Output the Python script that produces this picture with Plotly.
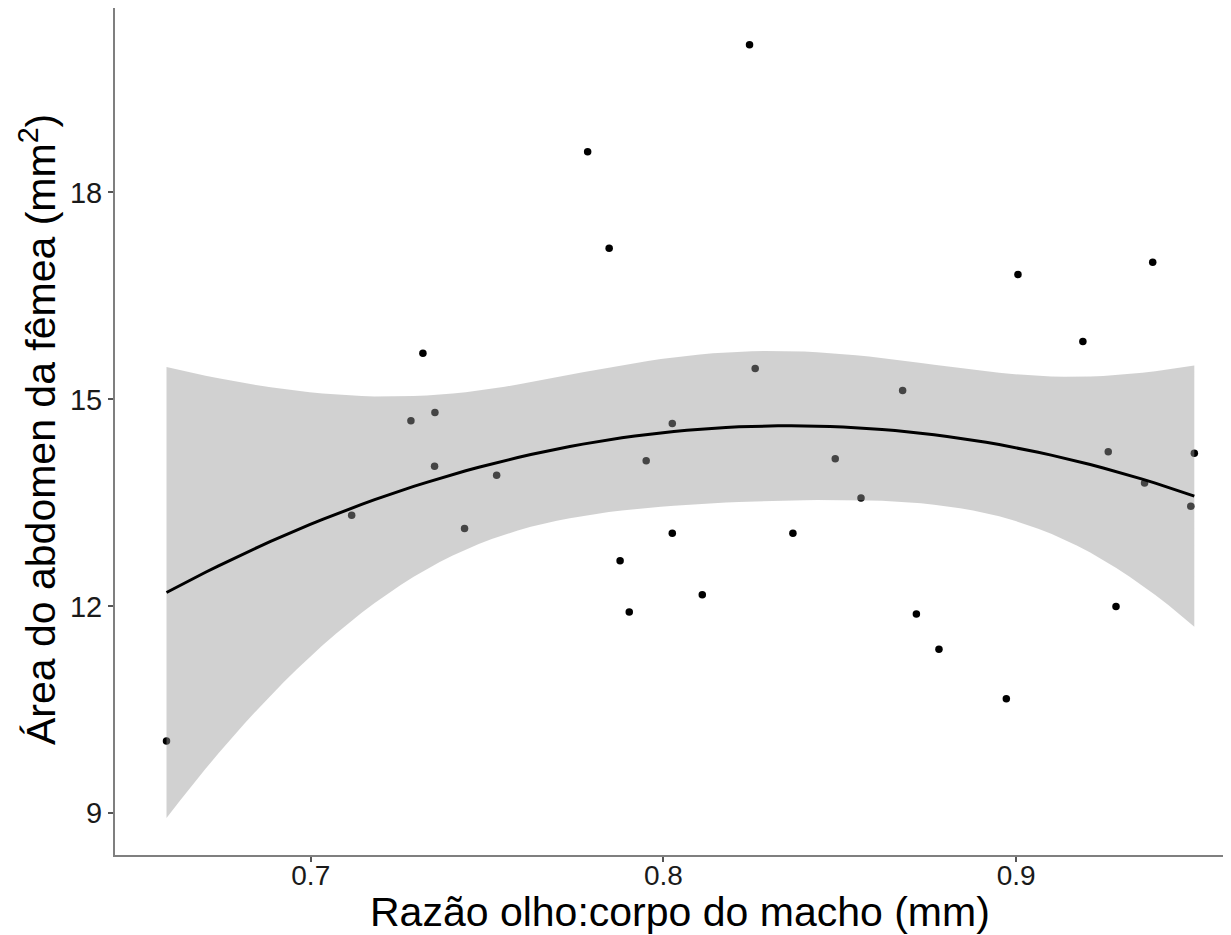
import numpy as np
import plotly.graph_objects as go

# Male eye:body ratio (x) and female abdomen area (y)
razao = [0.6591, 0.7116, 0.7284, 0.7318, 0.7352, 0.7351, 0.7436, 0.7527,
         0.7785, 0.7846, 0.7877, 0.7903, 0.7951, 0.8025, 0.8025, 0.8110,
         0.8244, 0.8260, 0.8367, 0.8487, 0.8560, 0.8678, 0.8717, 0.8781,
         0.8972, 0.9005, 0.9189, 0.9261, 0.9283, 0.9364, 0.9387, 0.9495,
         0.9505]
area = [10.05, 13.32, 14.69, 15.67, 14.81, 14.03, 13.13, 13.90,
        18.59, 17.19, 12.66, 11.92, 14.11, 14.65, 13.06, 12.17,
        20.14, 15.45, 13.06, 14.14, 13.57, 15.13, 11.89, 11.38,
        10.66, 16.81, 15.84, 14.24, 12.00, 13.79, 16.99, 13.45,
        14.22]

x_ticks = [0.7, 0.8, 0.9]
x_tick_labels = ["0.7", "0.8", "0.9"]
y_ticks = [9, 12, 15, 18]
y_tick_labels = ["9", "12", "15", "18"]

x_title = "Razão olho:corpo do macho (mm)"
y_title = "Área do abdomen da fêmea (mm<sup>2</sup>)"

# quadratic least-squares smooth with 95% confidence band (as geom_smooth)
xa = np.array(razao)
ya = np.array(area)
X = np.column_stack([np.ones_like(xa), xa, xa ** 2])
beta, *_ = np.linalg.lstsq(X, ya, rcond=None)
resid = ya - X @ beta
dof = len(xa) - 3
s2 = resid @ resid / dof
XtX_inv = np.linalg.inv(X.T @ X)
t_crit = 2.0423  # t(0.975, df=30)
xg = np.linspace(xa.min(), xa.max(), 80)
G = np.column_stack([np.ones_like(xg), xg, xg ** 2])
fit = G @ beta
se = np.sqrt(np.einsum("ij,jk,ik->i", G, XtX_inv, G) * s2)
upper = fit + t_crit * se
lower = fit - t_crit * se

FONT = "Liberation Sans, Arial, Helvetica, sans-serif"

# the page body adds an 8px offset; figure is sized to fill the window
W, H = 1223, 927
L, T, B = 107, 0, 80
plot_h = H - T - B  # 847

fig = go.Figure()
fig.add_trace(go.Scatter(x=razao, y=area, mode="markers",
                         marker=dict(color="black", size=7.5),
                         showlegend=False, hoverinfo="skip"))
fig.add_trace(go.Scatter(x=np.concatenate([xg, xg[::-1]]),
                         y=np.concatenate([upper, lower[::-1]]),
                         fill="toself", fillcolor="rgba(153,153,153,0.45)",
                         line=dict(width=0), mode="lines",
                         showlegend=False, hoverinfo="skip"))
fig.add_trace(go.Scatter(x=xg, y=fit, mode="lines",
                         line=dict(color="black", width=3),
                         showlegend=False, hoverinfo="skip"))

fig.update_layout(
    width=W, height=H,
    margin=dict(l=L, r=0, t=T, b=B, pad=0),
    paper_bgcolor="white", plot_bgcolor="white",
    font=dict(family=FONT, color="#1a1a1a"),
    showlegend=False,
    xaxis=dict(range=[0.6445, 0.9609], tickvals=x_ticks, ticktext=x_tick_labels,
               showgrid=False, zeroline=False, showline=True,
               linecolor="#7f7f7f", linewidth=2,
               ticks="outside", ticklen=5, tickwidth=1.5, tickcolor="#555555",
               ticklabelstandoff=-11,
               tickfont=dict(size=28, color="#1a1a1a")),
    yaxis=dict(range=[8.396, 20.674], tickvals=y_ticks, ticktext=y_tick_labels,
               showgrid=False, zeroline=False, showline=True,
               linecolor="#7f7f7f", linewidth=2,
               ticks="outside", ticklen=5, tickwidth=1.5, tickcolor="#555555",
               tickfont=dict(size=29, color="#1a1a1a")),
    annotations=[
        dict(text=x_title, xref="paper", yref="paper",
             x=(672 - L) / (W - L), y=0, yshift=-81, xanchor="center", yanchor="bottom",
             borderpad=0,
             showarrow=False, font=dict(size=41, color="black", family=FONT)),
        dict(text=y_title, xref="paper", yref="paper",
             x=0, xshift=-77, y=(847 - 422) / plot_h, yanchor="middle", xanchor="center",
             textangle=-90, showarrow=False, borderpad=0,
             font=dict(size=41, color="black", family=FONT)),
    ],
)

fig.write_html("out.html")
